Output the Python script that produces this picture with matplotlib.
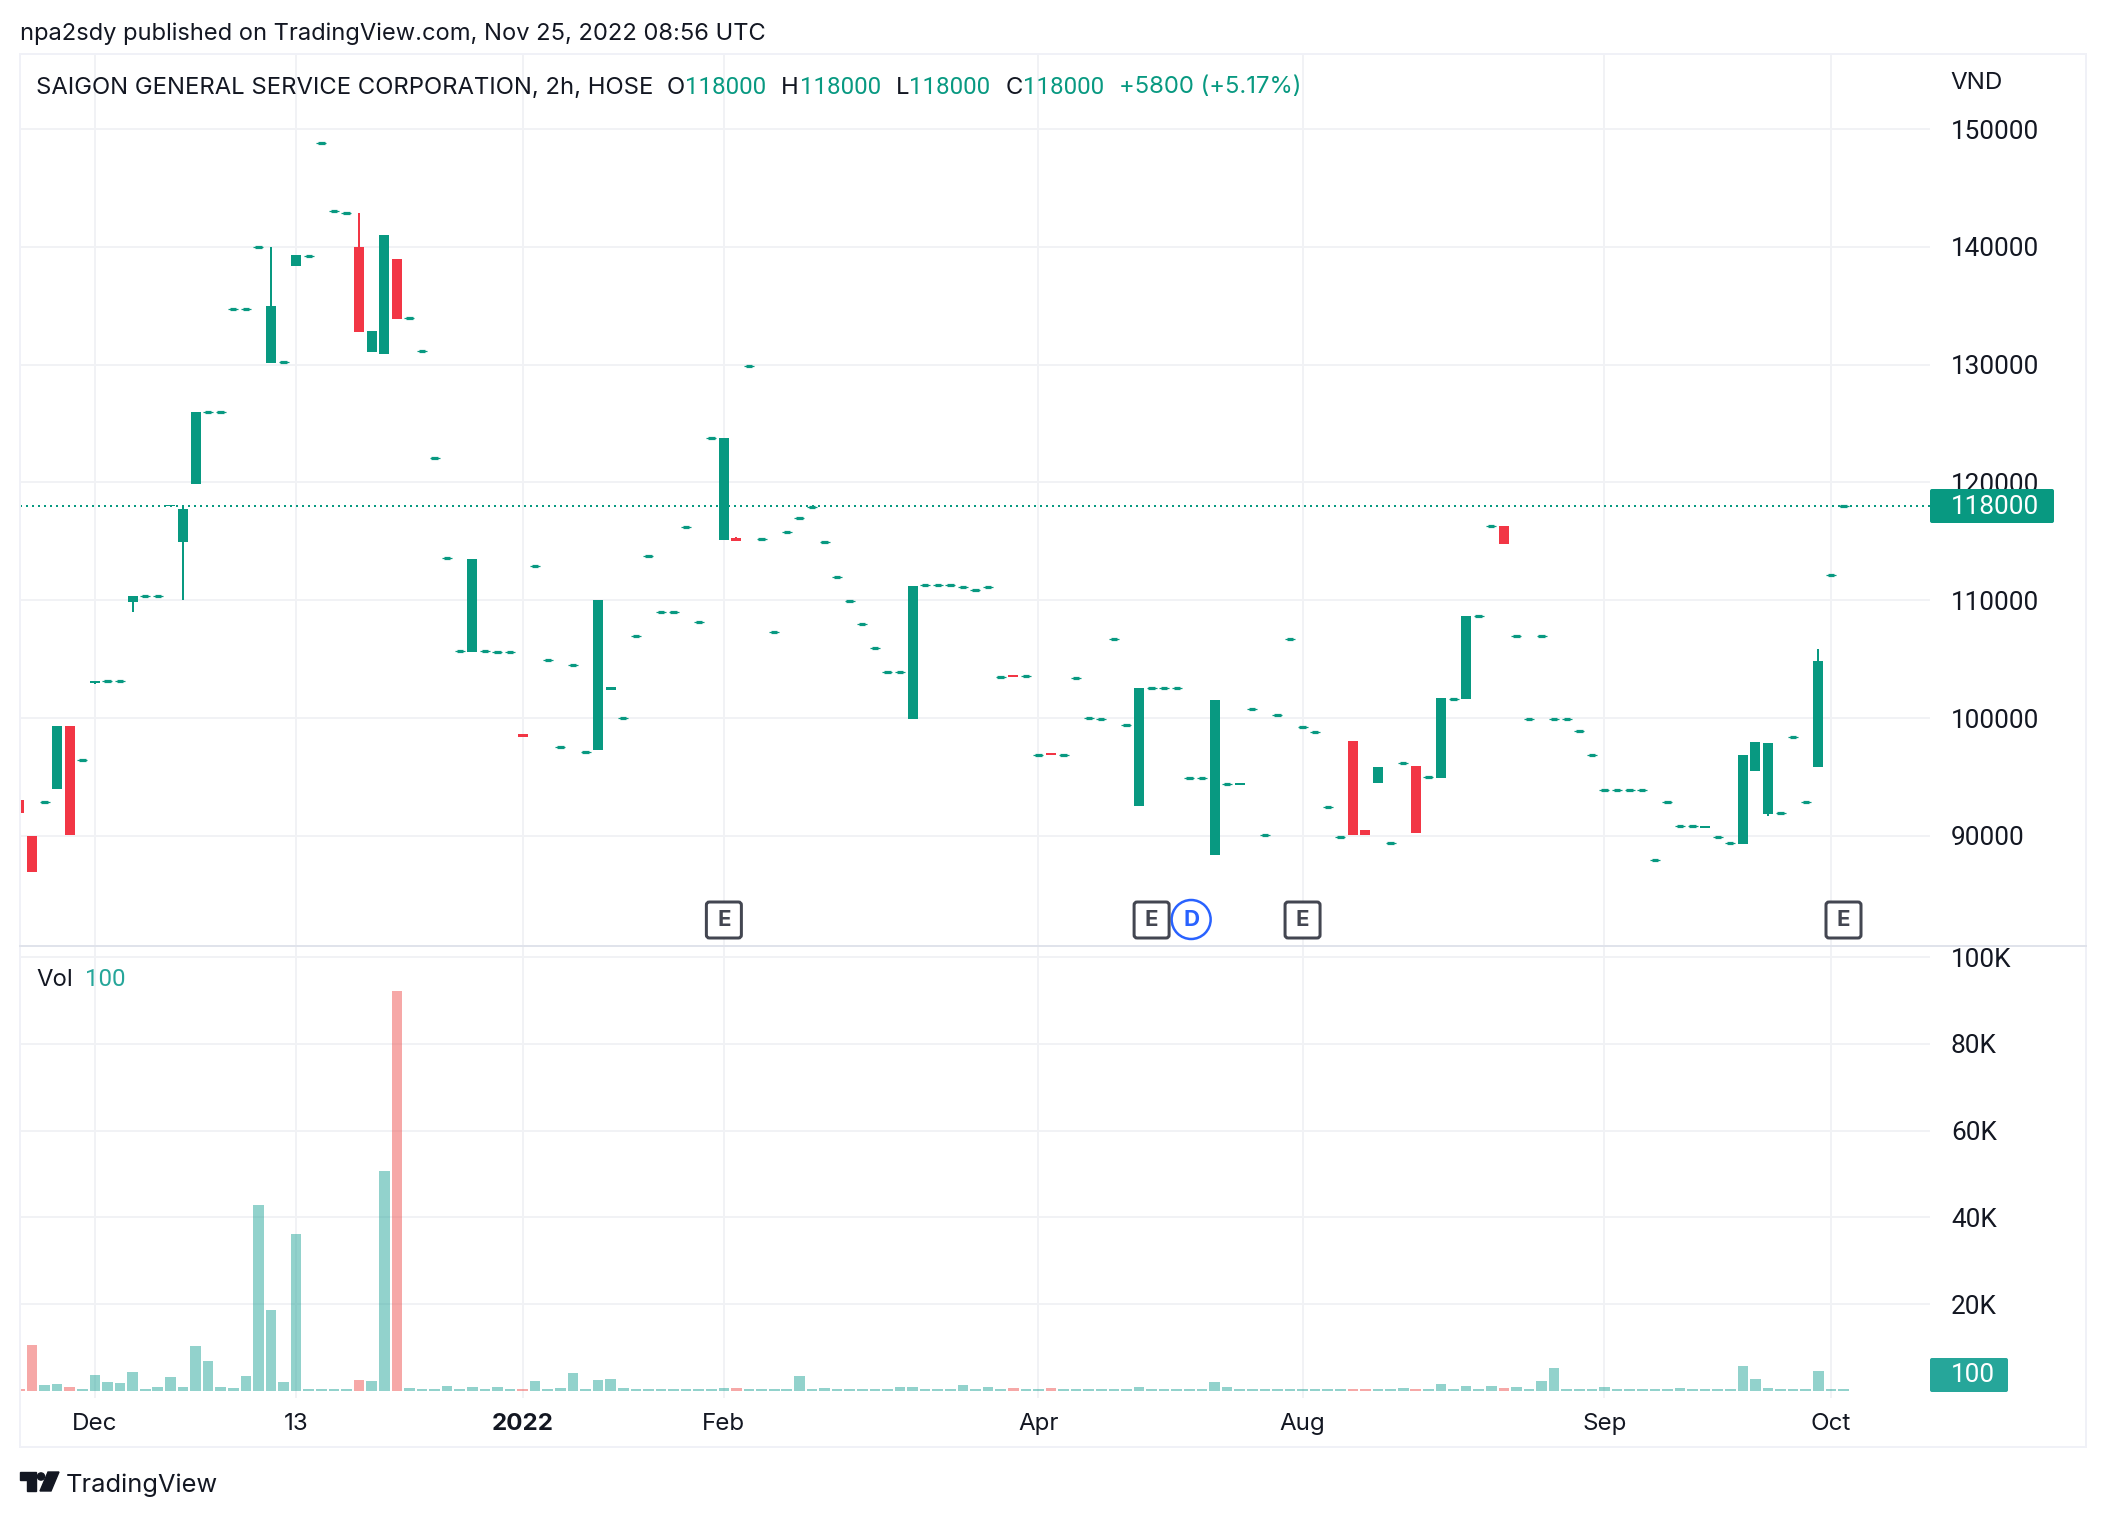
import matplotlib
matplotlib.use("Agg")
import matplotlib.pyplot as plt
from matplotlib.patches import FancyBboxPatch, Rectangle, Circle, Polygon

plt.rcParams["font.family"] = ["Inter", "DejaVu Sans"]

# === Data: one entry per 2h bar ===
opens = [93000, 90000, 92850, 93950, 99350, 96400, 103000, 103100, 103100, 109870,
         110350, 110350, 118000, 114900, 119870, 126000, 126000, 134760, 134760, 139950,
         130170, 130200, 138400, 139250, 148800, 143030, 142860, 140000, 131080, 130900,
         138960, 133940, 131130, 122030, 113550, 105670, 105630, 105670, 105580, 105580,
         98600, 112900, 104890, 97570, 104470, 97150, 97290, 102400, 100000, 106930,
         113720, 108970, 108970, 116250, 108130, 123750, 115090, 115250, 129900, 115160,
         107280, 115760, 116960, 117900, 114920, 111930, 109890, 107950, 105910, 103940,
         103940, 99900, 111260, 111260, 111260, 111150, 110900, 111150, 103520, 103650,
         103590, 96890, 97000, 96890, 103420, 100030, 99940, 106720, 99430, 92510,
         102570, 102570, 102570, 94940, 94940, 88360, 94430, 94350, 100790, 90030,
         100280, 106720, 99270, 98840, 92480, 89940, 98020, 90480, 94460, 89430,
         96210, 95900, 95030, 94890, 101640, 101580, 108700, 116300, 116330, 106930,
         99940, 106930, 99940, 99940, 98920, 96880, 93890, 93890, 93890, 93890,
         87930, 92870, 90830, 90830, 90700, 89890, 89380, 89320, 95540, 91820,
         91930, 98410, 92870, 95830, 112130, 118000]
closes = [91900, 86900, 92850, 99350, 90100, 96400, 103100, 103100, 103100, 110390,
          110350, 110350, 118100, 117750, 125970, 126000, 126000, 134760, 134760, 139950,
          134980, 130200, 139300, 139250, 148800, 143030, 142860, 132770, 132860, 141000,
          133900, 133940, 131130, 122030, 113550, 105670, 113500, 105670, 105580, 105580,
          98400, 112900, 104890, 97570, 104470, 97150, 110000, 102650, 100000, 106930,
          113720, 108970, 108970, 116250, 108130, 123750, 123750, 115050, 129900, 115160,
          107280, 115760, 116960, 117900, 114920, 111930, 109890, 107950, 105910, 103940,
          103940, 111190, 111260, 111260, 111260, 111150, 110900, 111150, 103520, 103500,
          103590, 96890, 96840, 96890, 103420, 100030, 99940, 106720, 99430, 102510,
          102570, 102570, 102570, 94940, 94940, 101500, 94430, 94520, 100790, 90030,
          100280, 106720, 99270, 98840, 92480, 89940, 90060, 90060, 95820, 89430,
          96210, 90220, 95030, 101670, 101640, 108700, 108700, 116300, 114800, 106930,
          99940, 106930, 99940, 99940, 98920, 96880, 93890, 93890, 93890, 93890,
          87930, 92870, 90830, 90830, 90860, 89890, 89380, 96900, 97930, 97840,
          91930, 98410, 92870, 104830, 112130, 118000]
# only the bars whose wick pokes out of the body
highs = {6: 103100, 13: 118000, 20: 140000, 27: 142900, 57: 115400, 143: 105850}
lows = {6: 102900, 9: 109000, 13: 110000, 139: 91650}

volumes = [460, 10600, 1380, 1615, 920, 460, 3690, 2080, 1850, 4380,
           460, 920, 3230, 920, 10380, 6920, 920, 690, 3460, 42860,
           18690, 2080, 36100, 460, 460, 460, 460, 2540, 2310, 50700,
           92170, 690, 460, 460, 1150, 460, 920, 460, 920, 460,
           460, 2310, 460, 690, 4150, 460, 2540, 2770, 690, 460,
           460, 460, 460, 460, 460, 460, 690, 690, 460, 460,
           460, 460, 3460, 460, 690, 460, 460, 460, 460, 460,
           920, 920, 460, 460, 460, 1380, 460, 920, 460, 690,
           460, 460, 690, 460, 460, 460, 460, 460, 460, 920,
           460, 460, 460, 460, 460, 2080, 920, 460, 460, 460,
           460, 460, 460, 460, 460, 460, 460, 460, 460, 460,
           690, 460, 460, 1615, 460, 1150, 460, 1150, 690, 920,
           460, 2310, 5300, 460, 460, 460, 920, 460, 460, 460,
           460, 460, 690, 460, 460, 460, 460, 5770, 2770, 690,
           460, 460, 460, 4610, 460, 460]

time_ticks = [6, 22, 40, 56, 81, 102, 126, 144]
time_labels = ["Dec", "13", "2022", "Feb", "Apr", "Aug", "Sep", "Oct"]
price_ticks = [90000, 100000, 110000, 120000, 130000, 140000, 150000]
vol_ticks = [20000, 40000, 60000, 80000, 100000]
vol_labels = ["20K", "40K", "60K", "80K", "100K"]
earnings_bars = [56, 90, 102, 145]
dividend_bars = [93]
last_price = "118000"
last_volume = "100"

# === Colours ===
GREEN = "#089981"
RED = "#F23645"
VOL_GREEN = "#26a69a"
VOL_RED = "#ef5350"
INK = "#131722"
GRID = "#f1f2f5"
FRAME = "#f0f1f7"
W, H = 2106, 1518
STEP = 12.58  # pixels per bar
SCALE_FONT = ["Roboto", "DejaVu Sans"]
SCALE_SIZE = 18.8


def axes_px(left, top, right, bottom):
    return [left / W, 1 - bottom / H, (right - left) / W, (bottom - top) / H]


fig = plt.figure(figsize=(W / 100, H / 100), dpi=100, facecolor="white")
ax = fig.add_axes(axes_px(20, 54, 1930, 945))
ax_vol = fig.add_axes(axes_px(20, 946, 1930, 1398))
over = fig.add_axes([0, 0, 1, 1], zorder=10)
over.set_xlim(0, W); over.set_ylim(H, 0)
over.axis("off")

# bar i sits at 19.4 + STEP*i pixels
xlim = ((20 - 19.4) / STEP, (1930 - 19.4) / STEP)
px = 0.72  # one pixel in points

for a in (ax, ax_vol):
    a.set_xlim(*xlim)
    a.set_axisbelow(True)
    a.grid(True, color=GRID, linewidth=2 * px)
    a.yaxis.tick_right()
    a.tick_params(length=0, labelcolor=INK, labelsize=17.2, pad=21 * px)
    for s in a.spines.values():
        s.set_visible(False)

# === Candles ===
ax.set_ylim(80730, 156367)
ax.set_yticks(price_ticks)
ax.set_yticklabels([str(p) for p in price_ticks], family=SCALE_FONT, fontsize=SCALE_SIZE)
ax.set_xticks(time_ticks)
ax.tick_params(axis="x", labelbottom=False)

for i, (o, c) in enumerate(zip(opens, closes)):
    color = GREEN if c >= o else RED
    hi = highs.get(i, max(o, c))
    lo = lows.get(i, min(o, c))
    if hi > lo:
        ax.vlines(i, lo, hi, color=color, linewidth=2 * px, zorder=3)
    if o == c:
        # doji: thin dash with a thicker middle
        ax.hlines(o, i - 5 / STEP, i + 5 / STEP, color=color, linewidth=1.2 * px, zorder=3)
        ax.hlines(o, i - 3.2 / STEP, i + 3.2 / STEP, color=color, linewidth=3.2 * px, zorder=3)
    else:
        ax.bar(i, abs(c - o), bottom=min(o, c), width=10 / STEP, color=color, linewidth=0, zorder=3)

ax.axhline(int(last_price), color=GREEN, linewidth=2 * px, linestyle=(0, (1, 2)), zorder=4)

# === Volume ===
ax_vol.set_ylim(-1613, 102535)
ax_vol.set_yticks(vol_ticks)
ax_vol.set_yticklabels(vol_labels, family=SCALE_FONT, fontsize=SCALE_SIZE)
ax_vol.set_xticks(time_ticks)
ax_vol.set_xticklabels(time_labels)
ax_vol.tick_params(axis="x", labelsize=17.4, pad=15 * px)
ax_vol.get_xticklabels()[2].set_fontweight("bold")
vol_colors = [VOL_GREEN if c >= o else VOL_RED for o, c in zip(opens, closes)]
ax_vol.bar(range(len(volumes)), volumes, width=10.6 / STEP, color=vol_colors, alpha=0.5, linewidth=0, zorder=3)

# === Frame, pane divider and header text ===
over.add_patch(Rectangle((20, 54), 2066, 1393, fill=False, edgecolor=FRAME, linewidth=2 * px))
over.plot([20, 2086], [945.5, 945.5], color="#e0e3eb", linewidth=2 * px)

over.text(20, 34, "npa2sdy published on TradingView.com, Nov 25, 2022 08:56 UTC",
          color=INK, fontsize=17.05, va="center")
legend_parts = [
    (36, "SAIGON GENERAL SERVICE CORPORATION, 2h, HOSE", INK, None, 17.15),
    (667, "O", INK, None, 17.2), (685, "118000", GREEN, SCALE_FONT, 17.3),
    (781, "H", INK, None, 17.2), (800, "118000", GREEN, SCALE_FONT, 17.3),
    (896, "L", INK, None, 17.2), (909, "118000", GREEN, SCALE_FONT, 17.3),
    (1006, "C", INK, None, 17.2), (1023, "118000", GREEN, SCALE_FONT, 17.3),
    (1119, "+5800 (+5.17%)", GREEN, None, 17.2),
]
for x, txt, col, fam, size in legend_parts:
    over.text(x, 85, txt, color=col, fontsize=size, va="center_baseline", family=fam or ["Inter", "DejaVu Sans"])
over.text(1950, 83, "VND", color=INK, fontsize=17.4, va="center")
over.text(36, 980, "Vol", color=INK, fontsize=17.2, va="center")
over.text(85, 980, last_volume, color=VOL_GREEN, fontsize=17.3, va="center", family=SCALE_FONT)

# === Last value tags on the scales ===
over.add_patch(FancyBboxPatch((1930, 489), 124, 34, boxstyle="round,pad=0,rounding_size=2",
                              facecolor=GREEN, edgecolor="none"))
over.text(1951, 506.5, last_price, color="white", fontsize=SCALE_SIZE, va="center", family=SCALE_FONT)
over.add_patch(FancyBboxPatch((1930, 1358), 78, 34, boxstyle="round,pad=0,rounding_size=2",
                              facecolor=VOL_GREEN, edgecolor="none"))
over.text(1951, 1375.5, last_volume, color="white", fontsize=SCALE_SIZE, va="center", family=SCALE_FONT)

# === Earnings / dividend flags, placed on their bars ===
fig.canvas.draw()
for i in dividend_bars:
    cx = ax.transData.transform((i, 90000))[0] + 1.8
    over.add_patch(Circle((cx, 919.5), 19.5, facecolor="white", edgecolor="#2962FF", linewidth=2.5 * px, zorder=5))
    over.text(cx, 920.5, "D", color="#2962FF", fontsize=16, fontweight="bold", ha="center", va="center", zorder=6)
for i in earnings_bars:
    cx = ax.transData.transform((i, 90000))[0]
    over.add_patch(FancyBboxPatch((cx - 17.5, 902), 35, 36, boxstyle="round,pad=0,rounding_size=3",
                                  facecolor="white", edgecolor="#434651", linewidth=3 * px, zorder=5))
    over.text(cx, 920.5, "E", color="#434651", fontsize=16, fontweight="bold", ha="center", va="center", zorder=6)

# === TradingView logo ===
over.add_patch(Polygon([(20, 1472), (36, 1472), (36, 1491), (27, 1491), (27, 1480), (20, 1480)], color=INK))
over.add_patch(Circle((41, 1476.5), 3.6, color=INK))
over.add_patch(Polygon([(48, 1472), (59, 1472), (51, 1491), (40, 1491)], color=INK))
over.text(66, 1485, "TradingView", color=INK, fontsize=18.3, va="center")

fig.savefig("out.png", dpi=100, facecolor="white")
